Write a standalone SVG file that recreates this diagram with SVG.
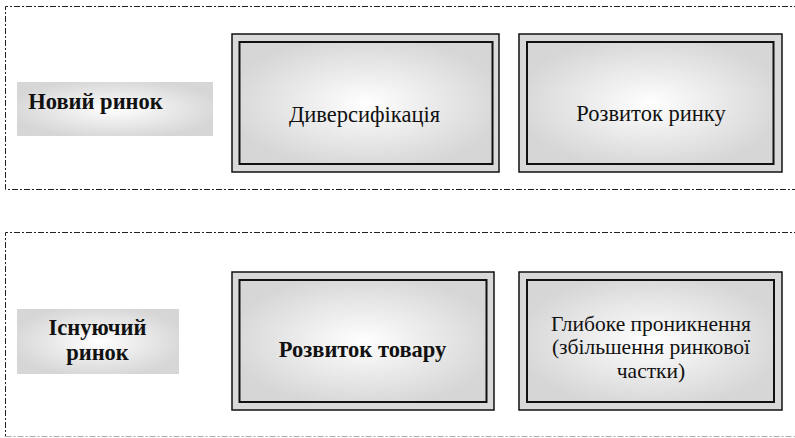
<svg xmlns="http://www.w3.org/2000/svg" width="795" height="438" viewBox="0 0 795 438">
<defs>
<radialGradient id="g" cx="0.5" cy="0.5" r="0.55">
<stop offset="0" stop-color="#ffffff"/>
<stop offset="0.35" stop-color="#f0f0f0"/>
<stop offset="1" stop-color="#d6d6d6"/>
</radialGradient>
<style>
.zone{fill:none;stroke:#222;stroke-width:1;stroke-dasharray:6 2 2 2}
.outer{fill:#d9d9d9;stroke:#111;stroke-width:1.5}
.inner{fill:url(#g);stroke:#111;stroke-width:2}
.lab{fill:url(#g);stroke:none}
text{font-family:'Liberation Serif','Times New Roman',serif;font-size:22.5px;fill:#111;text-anchor:middle}
.b{font-weight:bold}
.s{font-size:21.5px}
</style>
</defs>
<g id="zones">
<path class="zone" d="M800 6.5 H5.5 V189.5 H800"/>
<path class="zone" d="M800 232.5 H5.5 V436.5"/>
<path class="zone" style="stroke:#aaa" d="M5.5 436.5 H800"/>
</g>
<g id="connectors"></g>
<g id="label-new">
<rect class="lab" x="17" y="82" width="196" height="54"/>
<text class="b" x="95.5" y="109">Новий ринок</text>
</g>
<g id="label-existing">
<rect class="lab" x="17" y="309" width="162" height="65"/>
<text class="b" x="97.5" y="334.5">Існуючий</text>
<text class="b" x="97.5" y="359.5">ринок</text>
</g>
<g id="node-diversification">
<rect class="outer" x="232" y="34" width="267" height="138"/>
<rect class="inner" x="239.5" y="42" width="253" height="122"/>
<text x="364.5" y="122">Диверсифікація</text>
</g>
<g id="node-market-dev">
<rect class="outer" x="519" y="34" width="263" height="138"/>
<rect class="inner" x="527" y="42" width="246.5" height="122"/>
<text x="651" y="121">Розвиток ринку</text>
</g>
<g id="node-product-dev">
<rect class="outer" x="232" y="272" width="262" height="138"/>
<rect class="inner" x="239.5" y="280" width="247" height="122"/>
<text class="b" x="362.5" y="357">Розвиток товару</text>
</g>
<g id="node-penetration">
<rect class="outer" x="519" y="272" width="263" height="138"/>
<rect class="inner" x="527" y="280" width="247" height="122"/>
<text class="s" x="651" y="330.5">Глибоке проникнення</text>
<text class="s" x="651" y="354.3">(збільшення ринкової</text>
<text class="s" x="651" y="378.1">частки)</text>
</g>
</svg>
